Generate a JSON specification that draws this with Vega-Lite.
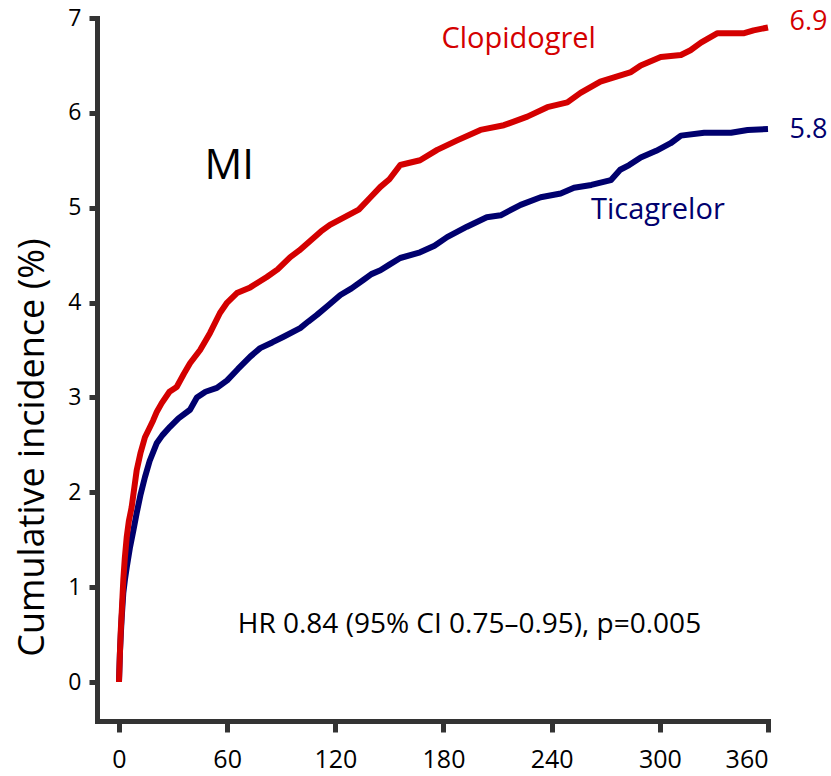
{
  "$schema": "https://vega.github.io/schema/vega-lite/v6.json",
  "width": 671,
  "height": 703,
  "autosize": {"type": "none"},
  "padding": {"left": 97, "top": 18, "right": 63, "bottom": 55},
  "background": "white",
  "config": {"view": {"stroke": null}, "font": "Open Sans"},
  "datasets": {
    "curves": [
      {"group": "Ticagrelor", "day": 0, "pct": 0},
      {"group": "Ticagrelor", "day": 0.5, "pct": 0.3},
      {"group": "Ticagrelor", "day": 1, "pct": 0.5},
      {"group": "Ticagrelor", "day": 1.5, "pct": 0.68},
      {"group": "Ticagrelor", "day": 2.4, "pct": 0.94},
      {"group": "Ticagrelor", "day": 3.3, "pct": 1.08},
      {"group": "Ticagrelor", "day": 4.3, "pct": 1.21},
      {"group": "Ticagrelor", "day": 6.1, "pct": 1.42},
      {"group": "Ticagrelor", "day": 8, "pct": 1.6},
      {"group": "Ticagrelor", "day": 9.8, "pct": 1.78},
      {"group": "Ticagrelor", "day": 12, "pct": 1.98},
      {"group": "Ticagrelor", "day": 14.4, "pct": 2.16},
      {"group": "Ticagrelor", "day": 17, "pct": 2.33},
      {"group": "Ticagrelor", "day": 21, "pct": 2.52},
      {"group": "Ticagrelor", "day": 24, "pct": 2.6},
      {"group": "Ticagrelor", "day": 28.3, "pct": 2.69},
      {"group": "Ticagrelor", "day": 33, "pct": 2.78},
      {"group": "Ticagrelor", "day": 39.4, "pct": 2.87},
      {"group": "Ticagrelor", "day": 43.2, "pct": 3.0},
      {"group": "Ticagrelor", "day": 48, "pct": 3.06},
      {"group": "Ticagrelor", "day": 54.3, "pct": 3.1},
      {"group": "Ticagrelor", "day": 60, "pct": 3.18},
      {"group": "Ticagrelor", "day": 66, "pct": 3.3},
      {"group": "Ticagrelor", "day": 72.8, "pct": 3.43},
      {"group": "Ticagrelor", "day": 78.3, "pct": 3.52},
      {"group": "Ticagrelor", "day": 85, "pct": 3.58},
      {"group": "Ticagrelor", "day": 91.3, "pct": 3.64},
      {"group": "Ticagrelor", "day": 100.5, "pct": 3.73},
      {"group": "Ticagrelor", "day": 105, "pct": 3.8},
      {"group": "Ticagrelor", "day": 109.8, "pct": 3.87},
      {"group": "Ticagrelor", "day": 116, "pct": 3.97},
      {"group": "Ticagrelor", "day": 122.8, "pct": 4.08},
      {"group": "Ticagrelor", "day": 129, "pct": 4.15},
      {"group": "Ticagrelor", "day": 135.7, "pct": 4.24},
      {"group": "Ticagrelor", "day": 140, "pct": 4.3},
      {"group": "Ticagrelor", "day": 145, "pct": 4.34},
      {"group": "Ticagrelor", "day": 150, "pct": 4.4},
      {"group": "Ticagrelor", "day": 156, "pct": 4.47},
      {"group": "Ticagrelor", "day": 167, "pct": 4.53},
      {"group": "Ticagrelor", "day": 175, "pct": 4.6},
      {"group": "Ticagrelor", "day": 182, "pct": 4.69},
      {"group": "Ticagrelor", "day": 193, "pct": 4.8},
      {"group": "Ticagrelor", "day": 204, "pct": 4.9},
      {"group": "Ticagrelor", "day": 211.7, "pct": 4.92},
      {"group": "Ticagrelor", "day": 222.8, "pct": 5.03},
      {"group": "Ticagrelor", "day": 233.9, "pct": 5.11},
      {"group": "Ticagrelor", "day": 245, "pct": 5.15},
      {"group": "Ticagrelor", "day": 252.4, "pct": 5.21},
      {"group": "Ticagrelor", "day": 262, "pct": 5.24},
      {"group": "Ticagrelor", "day": 272.8, "pct": 5.29},
      {"group": "Ticagrelor", "day": 278, "pct": 5.4},
      {"group": "Ticagrelor", "day": 283, "pct": 5.45},
      {"group": "Ticagrelor", "day": 289.4, "pct": 5.53},
      {"group": "Ticagrelor", "day": 298, "pct": 5.6},
      {"group": "Ticagrelor", "day": 306, "pct": 5.68},
      {"group": "Ticagrelor", "day": 311.7, "pct": 5.76},
      {"group": "Ticagrelor", "day": 324.6, "pct": 5.79},
      {"group": "Ticagrelor", "day": 339.5, "pct": 5.79},
      {"group": "Ticagrelor", "day": 348.7, "pct": 5.82},
      {"group": "Ticagrelor", "day": 360, "pct": 5.83},
      {"group": "Clopidogrel", "day": 0, "pct": 0},
      {"group": "Clopidogrel", "day": 0.5, "pct": 0.3},
      {"group": "Clopidogrel", "day": 1, "pct": 0.55},
      {"group": "Clopidogrel", "day": 1.5, "pct": 0.73},
      {"group": "Clopidogrel", "day": 2.4, "pct": 1.08},
      {"group": "Clopidogrel", "day": 3.2, "pct": 1.3},
      {"group": "Clopidogrel", "day": 4.3, "pct": 1.53},
      {"group": "Clopidogrel", "day": 5.5, "pct": 1.7},
      {"group": "Clopidogrel", "day": 7, "pct": 1.84},
      {"group": "Clopidogrel", "day": 8.5, "pct": 2.05},
      {"group": "Clopidogrel", "day": 9.8, "pct": 2.23},
      {"group": "Clopidogrel", "day": 12, "pct": 2.42},
      {"group": "Clopidogrel", "day": 14.4, "pct": 2.58},
      {"group": "Clopidogrel", "day": 17, "pct": 2.68},
      {"group": "Clopidogrel", "day": 19, "pct": 2.76},
      {"group": "Clopidogrel", "day": 21, "pct": 2.85},
      {"group": "Clopidogrel", "day": 23.7, "pct": 2.94},
      {"group": "Clopidogrel", "day": 28, "pct": 3.06},
      {"group": "Clopidogrel", "day": 32, "pct": 3.11},
      {"group": "Clopidogrel", "day": 36, "pct": 3.25},
      {"group": "Clopidogrel", "day": 39.4, "pct": 3.36},
      {"group": "Clopidogrel", "day": 45, "pct": 3.5},
      {"group": "Clopidogrel", "day": 50.5, "pct": 3.68},
      {"group": "Clopidogrel", "day": 56, "pct": 3.89},
      {"group": "Clopidogrel", "day": 60, "pct": 4.0},
      {"group": "Clopidogrel", "day": 65.4, "pct": 4.1},
      {"group": "Clopidogrel", "day": 72.8, "pct": 4.16},
      {"group": "Clopidogrel", "day": 82, "pct": 4.27},
      {"group": "Clopidogrel", "day": 88, "pct": 4.35},
      {"group": "Clopidogrel", "day": 95, "pct": 4.48},
      {"group": "Clopidogrel", "day": 100, "pct": 4.55},
      {"group": "Clopidogrel", "day": 106, "pct": 4.65},
      {"group": "Clopidogrel", "day": 112, "pct": 4.75},
      {"group": "Clopidogrel", "day": 117, "pct": 4.82},
      {"group": "Clopidogrel", "day": 122, "pct": 4.87},
      {"group": "Clopidogrel", "day": 128, "pct": 4.93},
      {"group": "Clopidogrel", "day": 133, "pct": 4.98},
      {"group": "Clopidogrel", "day": 139, "pct": 5.1},
      {"group": "Clopidogrel", "day": 145, "pct": 5.22},
      {"group": "Clopidogrel", "day": 150, "pct": 5.3},
      {"group": "Clopidogrel", "day": 156, "pct": 5.45},
      {"group": "Clopidogrel", "day": 167, "pct": 5.5},
      {"group": "Clopidogrel", "day": 176.5, "pct": 5.61},
      {"group": "Clopidogrel", "day": 187.6, "pct": 5.71},
      {"group": "Clopidogrel", "day": 200.5, "pct": 5.82},
      {"group": "Clopidogrel", "day": 213.5, "pct": 5.87},
      {"group": "Clopidogrel", "day": 226.5, "pct": 5.96},
      {"group": "Clopidogrel", "day": 237.6, "pct": 6.06},
      {"group": "Clopidogrel", "day": 248.7, "pct": 6.11},
      {"group": "Clopidogrel", "day": 256, "pct": 6.21},
      {"group": "Clopidogrel", "day": 267, "pct": 6.33},
      {"group": "Clopidogrel", "day": 284, "pct": 6.43},
      {"group": "Clopidogrel", "day": 289.4, "pct": 6.5},
      {"group": "Clopidogrel", "day": 300.5, "pct": 6.59},
      {"group": "Clopidogrel", "day": 311.7, "pct": 6.61},
      {"group": "Clopidogrel", "day": 317, "pct": 6.66},
      {"group": "Clopidogrel", "day": 322.8, "pct": 6.74},
      {"group": "Clopidogrel", "day": 332, "pct": 6.84},
      {"group": "Clopidogrel", "day": 346.8, "pct": 6.84},
      {"group": "Clopidogrel", "day": 352, "pct": 6.87},
      {"group": "Clopidogrel", "day": 360, "pct": 6.9}
    ]
  },
  "layer": [
    {
      "data": {"name": "curves"},
      "transform": [{"filter": "datum.group === 'Ticagrelor'"}],
      "mark": {"type": "line", "strokeWidth": 6, "color": "#00006e", "strokeJoin": "round"},
      "encoding": {
        "x": {
          "field": "day", "type": "quantitative",
          "scale": {"domain": [-12.2, 360], "nice": false, "zero": false},
          "axis": {
            "values": [0, 60, 120, 180, 240, 300, 360],
            "format": "d",
            "title": null, "grid": false,
            "domainColor": "#333333", "domainWidth": 5, "domainCap": "square",
            "tickColor": "#333333", "tickWidth": 5, "tickSize": 11,
            "labelFontSize": 25, "labelColor": "#000000", "labelPadding": 15,
            "labelFont": "Open Sans"
          }
        },
        "y": {
          "field": "pct", "type": "quantitative",
          "scale": {"domain": [-0.411, 7], "nice": false, "zero": false},
          "axis": {
            "values": [0, 1, 2, 3, 4, 5, 6, 7],
            "format": "d",
            "title": "Cumulative incidence (%)", "grid": false,
            "domainColor": "#333333", "domainWidth": 5, "domainCap": "square",
            "tickColor": "#333333", "tickWidth": 5, "tickSize": 8,
            "labelFontSize": 23, "labelColor": "#000000", "labelPadding": 8,
            "labelFont": "Open Sans",
            "titleFontSize": 36, "titleFontWeight": "normal", "titleColor": "#000000",
            "titleFont": "Open Sans",
            "titleAngle": -90, "titleX": -65, "titleY": 429,
            "titleAlign": "center", "titleBaseline": "middle"
          }
        }
      }
    },
    {
      "data": {"name": "curves"},
      "transform": [{"filter": "datum.group === 'Clopidogrel'"}],
      "mark": {"type": "line", "strokeWidth": 6, "color": "#d40000", "strokeJoin": "round"},
      "encoding": {
        "x": {"field": "day", "type": "quantitative"},
        "y": {"field": "pct", "type": "quantitative"}
      }
    },
    {
      "data": {"values": [{"day": 61.1, "pct": 5.44, "label": "MI"}]},
      "mark": {"type": "text", "fontSize": 42, "color": "#000000", "align": "center", "baseline": "middle", "clip": false},
      "encoding": {
        "x": {"field": "day", "type": "quantitative"},
        "y": {"field": "pct", "type": "quantitative"},
        "text": {"field": "label"}
      }
    },
    {
      "data": {"values": [{"day": 221.7, "pct": 6.78, "label": "Clopidogrel"}]},
      "mark": {"type": "text", "fontSize": 29, "color": "#d40000", "align": "center", "baseline": "middle", "clip": false},
      "encoding": {
        "x": {"field": "day", "type": "quantitative"},
        "y": {"field": "pct", "type": "quantitative"},
        "text": {"field": "label"}
      }
    },
    {
      "data": {"values": [{"day": 382.5, "pct": 6.96, "label": "6.9"}]},
      "mark": {"type": "text", "fontSize": 27, "color": "#d40000", "align": "center", "baseline": "middle", "clip": false},
      "encoding": {
        "x": {"field": "day", "type": "quantitative"},
        "y": {"field": "pct", "type": "quantitative"},
        "text": {"field": "label"}
      }
    },
    {
      "data": {"values": [{"day": 298.9, "pct": 4.98, "label": "Ticagrelor"}]},
      "mark": {"type": "text", "fontSize": 29, "color": "#00006e", "align": "center", "baseline": "middle", "clip": false},
      "encoding": {
        "x": {"field": "day", "type": "quantitative"},
        "y": {"field": "pct", "type": "quantitative"},
        "text": {"field": "label"}
      }
    },
    {
      "data": {"values": [{"day": 382.5, "pct": 5.82, "label": "5.8"}]},
      "mark": {"type": "text", "fontSize": 27, "color": "#00006e", "align": "center", "baseline": "middle", "clip": false},
      "encoding": {
        "x": {"field": "day", "type": "quantitative"},
        "y": {"field": "pct", "type": "quantitative"},
        "text": {"field": "label"}
      }
    },
    {
      "data": {"values": [{"day": 194.4, "pct": 0.6, "label": "HR 0.84 (95% CI 0.75–0.95), p=0.005"}]},
      "mark": {"type": "text", "fontSize": 28, "color": "#000000", "align": "center", "baseline": "middle", "clip": false},
      "encoding": {
        "x": {"field": "day", "type": "quantitative"},
        "y": {"field": "pct", "type": "quantitative"},
        "text": {"field": "label"}
      }
    }
  ]
}
